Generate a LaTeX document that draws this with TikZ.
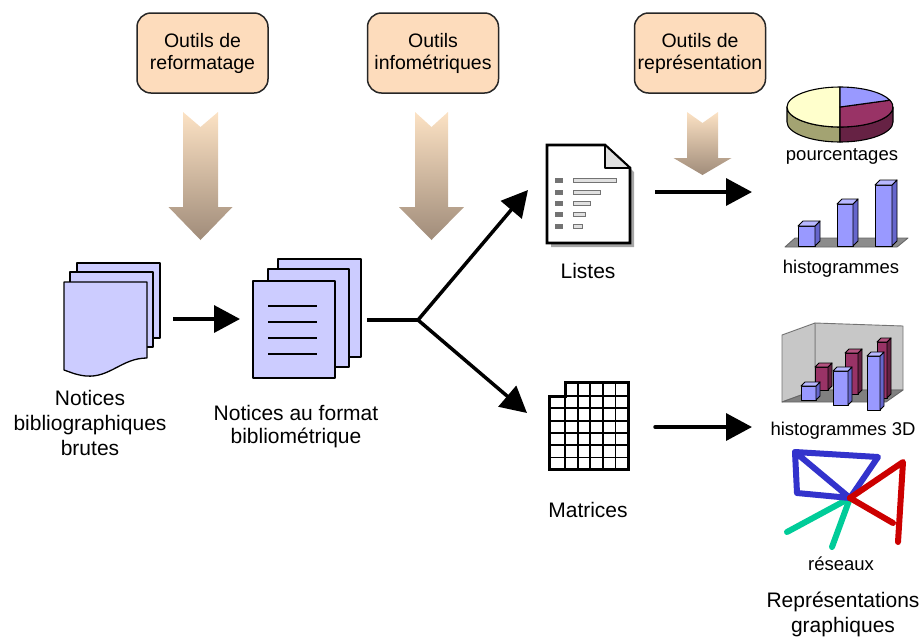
\documentclass[tikz,border=0pt]{standalone}
\usepackage{fontspec}
\setmainfont{Liberation Sans}
\usetikzlibrary{arrows.meta}

\definecolor{peach}{HTML}{FDDCBC}
\definecolor{lav}{HTML}{CCCCFF}
\definecolor{arrtop}{HTML}{FCE2C4}
\definecolor{arrbot}{HTML}{A08C7A}
\definecolor{barfront}{HTML}{9999FF}
\definecolor{barside}{HTML}{6666CC}
\definecolor{bartop}{HTML}{B8B8FF}
\definecolor{mfront}{HTML}{993366}
\definecolor{mside}{HTML}{662244}
\definecolor{mtop}{HTML}{B3527F}
\definecolor{pieyellow}{HTML}{FFFFCC}
\definecolor{pieolive}{HTML}{A3A372}
\definecolor{netblue}{HTML}{3333CC}
\definecolor{netred}{HTML}{CC0000}
\definecolor{netgreen}{HTML}{00CC99}

% shaded downward arrow with a notched tail:
% centre x, shaft half width, head half width, top y, head y, tip y, notch depth
\newcommand{\toolarrow}[7]{%
  \shade[top color=arrtop, bottom color=arrbot]
    ({#1-#2},#4) -- (#1,{#4+#7}) -- ({#1+#2},#4) -- ({#1+#2},#5)
    -- ({#1+#3},#5) -- (#1,#6) -- ({#1-#3},#5) -- ({#1-#2},#5) -- cycle;}

% 3D bar: x left, x right, y top, y bottom, depth, front, side, top colours
\newcommand{\cubebar}[8]{%
  \filldraw[fill=#6] (#1,#3) rectangle (#2,#4);
  \filldraw[fill=#7] (#2,#3) -- ({#2+#5},{#3-#5}) -- ({#2+#5},{#4-#5}) -- (#2,#4) -- cycle;
  \filldraw[fill=#8] (#1,#3) -- ({#1+#5},{#3-#5}) -- ({#2+#5},{#3-#5}) -- (#2,#3) -- cycle;}

\begin{document}
\begin{tikzpicture}[x=1pt,y=-1pt,
  toolbox/.style={draw=black!85, line width=1.5pt, fill=peach, rounded corners=14pt,
    minimum width=131pt, minimum height=80pt, inner sep=0pt, align=center,
    font=\fontsize{19.5}{22}\selectfont},
  biglabel/.style={align=center, inner sep=0pt, anchor=base,
    font=\fontsize{21}{25}\selectfont},
  smalllabel/.style={align=center, inner sep=0pt, anchor=base,
    font=\fontsize{18.5}{22}\selectfont},
  page/.style={draw=black, line width=1.3pt, fill=lav, line join=round},
  flowline/.style={line width=3.5pt},
  flow/.style={line width=3.5pt, -{Triangle[length=26pt,width=27pt]}},
  icon/.style={draw=black, line width=2.6pt, line join=miter},
  net/.style={line width=6pt, line cap=round, line join=round}]

\useasboundingbox (0,0) rectangle (921,641);

% ---- tool boxes and their shaded arrows
\node[toolbox] (reformat) at (202.5,53) {Outils de\\reformatage};
\node[toolbox] (infomet) at (433,53) {Outils\\infométriques};
\node[toolbox] (represent) at (700,53) {Outils de\\représentation};

\toolarrow{200.5}{17.5}{32}{112}{207}{240}{15}
\toolarrow{431.5}{16.5}{32.5}{112}{207}{240}{15}
\toolarrow{702.5}{15.5}{29}{112}{158}{175}{11}

% ---- raw bibliographic records (stack of pages, wavy front page)
\filldraw[page] (77,263) rectangle (160,338);
\filldraw[page] (70,272) rectangle (153,347);
\filldraw[page] (64,282) -- (147,282) -- (147,358)
  .. controls (122,358) and (110,378) .. (86,376)
  .. controls (76,375) and (70,372) .. (64,370) -- cycle;
% multi-line labels are placed by the baseline of their last line
\node[biglabel] (rawlbl) at (90,455) {Notices\\bibliographiques\\brutes};

% ---- records in bibliometric format
\filldraw[page] (278,259) rectangle (361,357);
\filldraw[page] (268,269) rectangle (349,367);
\filldraw[page] (253,281) rectangle (335,378);
\foreach \y in {306,322,338,354}
  \draw[line width=1.3pt] (268,\y) -- (317,\y);
\node[biglabel, font=\fontsize{21}{23}\selectfont] (fmtlbl) at (296,443) {Notices au format\\bibliométrique};

\coordinate (rawout) at (173,319);
\coordinate (fmtin) at (240,319);
\draw[flow] (rawout) -- (fmtin);

% ---- fork towards lists and matrices
\coordinate (fmtout) at (367,320);
\coordinate (fork) at (418,320);
\coordinate (listin) at (528,190);
\coordinate (matin) at (527,413);
\draw[flowline] (fmtout) -- (fork);
\draw[flow] (fork) -- (listin);
\draw[flow] (fork) -- (matin);

% ---- list icon
\fill[black!35] (551,149) -- (609,149) -- (634,172) -- (634,247) -- (551,247) -- cycle;
\filldraw[icon, fill=white] (547,145) -- (605,145) -- (630,168) -- (630,243) -- (547,243) -- cycle;
\filldraw[draw=black, line width=1.6pt, fill=black!12, line join=round] (605,145) -- (605,168) -- (630,168) -- cycle;
\foreach \y/\e in {180/616,192/600,203/590,214/585,226/582} {
  \fill[black!55] (555,{\y-2.5}) rectangle (563,{\y+2.5});
  \filldraw[draw=black!55, fill=black!12, line width=0.9pt] (573,{\y-2}) rectangle (\e,{\y+2});
}
\node[biglabel] (listlbl) at (588,278) {Listes};

% ---- matrix icon
\filldraw[fill=white, draw=black, line width=3pt, line join=miter]
  (565,382) -- (628,382) -- (628,469) -- (549,469) -- (549,396) -- (565,396) -- cycle;
\foreach \x in {565,577.6,590.2,602.8,615.4}
  \draw[line width=1.8pt] (\x,382) -- (\x,469);
\draw[line width=1.8pt] (565,396) -- (628,396);
\foreach \y in {408.3,420.6,432.9,445.2,457.5}
  \draw[line width=1.8pt] (549,\y) -- (628,\y);
\draw[line width=2.6pt] (565,382) -- (565,469);
\node[biglabel] (matlbl) at (588,517) {Matrices};

% ---- arrows to the graphical outputs
\coordinate (listout) at (655,192);
\coordinate (pctin) at (752,192);
\coordinate (matout) at (655,427);
\coordinate (h3din) at (752,427);
\draw[flow] (listout) -- (pctin);
\draw[flow, line cap=round] (matout) -- (h3din);

% ---- pie chart
\begin{scope}[shift={(840,107)}, line width=1.1pt, line join=round]
  \filldraw[fill=pieolive] (-53,0) arc[start angle=180, end angle=90, x radius=53, y radius=20]
    -- (0,35) arc[start angle=90, end angle=180, x radius=53, y radius=20] -- cycle;
  \filldraw[fill=mside] (0,20) arc[start angle=90, end angle=0, x radius=53, y radius=20]
    -- (53,15) arc[start angle=0, end angle=90, x radius=53, y radius=20] -- cycle;
  \filldraw[fill=pieyellow] (0,0) -- (0,-20) arc[start angle=-90, end angle=-270, x radius=53, y radius=20] -- cycle;
  \filldraw[fill=mfront] (0,0) -- (0,20) arc[start angle=90, end angle=-20, x radius=53, y radius=20] -- cycle;
  \filldraw[fill=barfront] (0,0) -- (-20:53 and 20) arc[start angle=-20, end angle=-90, x radius=53, y radius=20] -- cycle;
\end{scope}
\node[smalllabel] (pctlbl) at (842,160) {pourcentages};

% ---- bar chart
\begin{scope}[line width=0.9pt, line join=round]
  \filldraw[fill=black!45, draw=black!60] (785,247) -- (897,247) -- (908,238) -- (795,238) -- cycle;
  \cubebar{798}{815}{226}{246}{5}{barfront}{barside}{bartop}
  \cubebar{837}{853}{204}{246}{5}{barfront}{barside}{bartop}
  \cubebar{875}{892}{185}{246}{5}{barfront}{barside}{bartop}
\end{scope}
\node[smalllabel] (histlbl) at (841,273) {histogrammes};

% ---- 3D bar chart
\begin{scope}[line width=0.9pt, line join=round]
  \filldraw[fill=black!22, draw=black!55] (815,323) -- (903,326) -- (903,390) -- (815,390) -- cycle;
  \filldraw[fill=black!22, draw=black!55] (782,335) -- (815,323) -- (815,390) -- (782,402) -- cycle;
  \filldraw[fill=black!50, draw=black!60] (782,402) -- (886,402) -- (903,390) -- (815,390) -- cycle;
  \cubebar{815}{828}{367}{390}{4}{mfront}{mside}{mtop}
  \cubebar{845}{858}{353}{394}{4}{mfront}{mside}{mtop}
  \cubebar{877}{887}{342}{398}{4}{mfront}{mside}{mtop}
  \cubebar{801}{816}{386}{400}{4}{barfront}{barside}{bartop}
  \cubebar{833}{848}{371}{405}{4}{barfront}{barside}{bartop}
  \cubebar{867}{880}{356}{410}{4}{barfront}{barside}{bartop}
\end{scope}
\node[smalllabel] (h3dlbl) at (843,435) {histogrammes 3D};

% ---- network
\coordinate (hub) at (850,498);
\draw[net, netgreen] (hub) -- (787,532);
\draw[net, netgreen] (hub) -- (832,547);
\draw[net, netblue] (hub) -- (795,452) -- (878,457) -- (hub) -- (797,493) -- (795,452);
\draw[net, netred] (hub) -- (903,462) -- (898,542);
\draw[net, netred] (hub) -- (893,523);
\node[smalllabel] (netlbl) at (841,570) {réseaux};

\node[biglabel] (graphlbl) at (843,632) {Représentations\\graphiques};
\end{tikzpicture}
\end{document}
